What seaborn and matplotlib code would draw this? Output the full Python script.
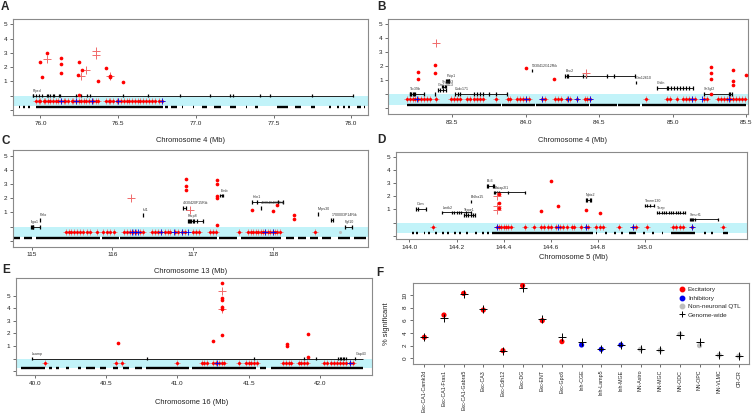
import matplotlib
matplotlib.use("Agg")
import matplotlib.pyplot as plt
from matplotlib.lines import Line2D
import seaborn as sns

# ---------------- panel A : chromosome 4, 76-78 Mb ----------------
A_hit_x = [76.00, 76.01, 76.04, 76.13, 76.13, 76.13, 76.24, 76.25, 76.27, 76.42, 76.37, 76.45, 76.45, 76.53, 76.25]
A_hit_y = [2.35, 1.28, 3.02, 2.63, 2.21, 1.58, 1.44, 2.35, 1.79, 1.91, 1.00, 1.33, 1.37, 0.98, 0.07]
A_gw_x = [76.04, 76.26, 76.29, 76.36, 76.36, 76.45]
A_gw_y = [2.58, 1.40, 1.77, 3.12, 2.88, 1.40]
A_row_red = [75.97, 75.99, 76.00, 76.02, 76.03, 76.05, 76.06, 76.08, 76.10, 76.11, 76.13, 76.15, 76.16,
             76.18, 76.20, 76.21, 76.23, 76.25, 76.26, 76.28, 76.29, 76.31, 76.33, 76.34, 76.36, 76.37,
             76.42, 76.44, 76.45, 76.47, 76.49, 76.50, 76.52, 76.54, 76.56, 76.57, 76.59, 76.61, 76.63,
             76.64, 76.66, 76.68, 76.70, 76.72, 76.74, 76.76, 76.78]
A_row_blue = [76.135, 76.23, 76.33, 76.50, 76.78]
A_row_gray = []
A_blk_start = [75.86, 75.89, 75.92, 75.95, 75.97, 76.80, 76.84, 76.91, 76.98, 77.04, 77.12, 77.22, 77.32,
               77.38, 77.52, 77.64, 77.74, 77.86, 77.91, 77.95, 77.98, 78.04, 78.08]
A_blk_end = [75.87, 75.90, 75.93, 75.955, 76.79, 76.82, 76.88, 76.92, 76.99, 77.07, 77.16, 77.26, 77.33,
             77.40, 77.59, 77.68, 77.77, 77.87, 77.92, 77.96, 77.99, 78.06, 78.09]
A_gene_name = ["Ptprd"]
A_gene_start = [75.95]
A_gene_end = [78.01]
A_gene_y = [0.0]
A_gene_exons = [[75.95, 75.955, 75.97, 75.99, 76.01, 76.04, 76.05, 76.06, 76.08, 76.09, 76.12, 76.125,
                 76.23, 76.26, 76.30, 76.32, 76.53, 76.69, 76.90, 77.09, 77.22, 77.24, 77.41, 77.48,
                 77.75, 78.01]]

# ---------------- panel B : chromosome 4, 83-85.5 Mb ----------------
B_hit_x = [83.27, 83.27, 83.38, 83.38, 84.00, 84.19, 85.26, 85.26, 85.26, 85.41, 85.41, 85.41, 85.50, 85.26]
B_hit_y = [1.61, 1.07, 2.09, 1.54, 1.87, 1.07, 1.92, 1.54, 1.07, 1.73, 0.95, 0.64, 1.40, 0.02]
B_gw_x = [83.39, 84.41]
B_gw_y = [3.63, 1.54]
B_row_red = [83.19, 83.21, 83.23, 83.25, 83.27, 83.29, 83.31, 83.33, 83.35, 83.39, 83.49, 83.51, 83.53,
             83.55, 83.60, 83.62, 83.65, 83.67, 83.69, 83.71, 83.80, 83.88, 83.89, 83.94, 83.96, 83.98,
             84.00, 84.02, 84.11, 84.13, 84.20, 84.22, 84.24, 84.28, 84.30, 84.35, 84.40, 84.42, 84.44,
             84.82, 84.96, 84.98, 85.03, 85.07, 85.09, 85.11, 85.13, 85.15, 85.21, 85.23, 85.31, 85.33,
             85.35, 85.37, 85.39, 85.41, 85.43, 85.45, 85.47, 85.49]
B_row_blue = [83.26, 84.00, 84.11, 84.29, 84.35, 84.44, 85.13, 85.20, 85.38]
B_row_gray = []
B_blk_start = [83.19, 83.84, 84.07, 84.44, 84.63, 84.79]
B_blk_end = [83.83, 84.06, 84.43, 84.62, 84.78, 85.50]
B_gene_name = ["Ttc39b", "", "Psip1", "Snapc3", "Gm12413", "Ccdc171", "5930412G12Rik", "Bnc2", "Gm12610",
               "Cntln", "Sh3gl2"]
B_gene_start = [83.21, 83.38, 83.46, 83.43, 83.40, 83.52, 84.04, 84.27, 84.75, 84.89, 85.21]
B_gene_end = [83.31, 83.38, 83.48, 83.46, 83.46, 83.87, 84.04, 84.74, 84.75, 85.14, 85.40]
B_gene_y = [0.0, 0.0, 0.95, 0.55, 0.30, 0.0, 1.70, 1.30, 0.85, 0.47, 0.0]
B_gene_exons = [[83.21, 83.215, 83.22, 83.23, 83.24, 83.25, 83.31], [83.38],
                [83.46, 83.465, 83.47, 83.475, 83.48], [83.43, 83.44, 83.45, 83.46],
                [83.40, 83.42, 83.44, 83.46],
                [83.52, 83.54, 83.55, 83.65, 83.67, 83.69, 83.71, 83.75, 83.80, 83.87], [84.04],
                [84.27, 84.28, 84.29, 84.39, 84.41, 84.55, 84.60, 84.74], [84.75],
                [84.89, 84.96, 84.97, 84.99, 85.01, 85.03, 85.05, 85.07, 85.09, 85.11, 85.14],
                [85.21, 85.38, 85.39, 85.40]]

# ---------------- panel C : chromosome 13, 115-119 Mb ----------------
C_hit_x = [116.92, 116.92, 116.92, 117.30, 117.30, 117.30, 117.30, 117.30, 117.74, 117.99, 118.05,
           118.26, 118.26]
C_hit_y = [3.36, 2.89, 2.58, 3.29, 2.98, 2.18, 1.99, 0.12, 1.17, 1.10, 1.55, 0.82, 0.52]
C_gw_x = [116.23, 116.97]
C_gw_y = [2.00, 1.17]
C_row_red = [115.43, 115.46, 115.49, 115.52, 115.56, 115.60, 115.64, 115.68, 115.72, 115.81, 115.89,
             115.93, 115.97, 116.02, 116.14, 116.18, 116.22, 116.26, 116.30, 116.34, 116.38, 116.49,
             116.53, 116.57, 116.61, 116.65, 116.69, 116.72, 116.78, 116.82, 116.86, 116.90, 117.00,
             117.04, 117.08, 117.21, 117.25, 117.29, 117.57, 117.69, 117.72, 117.75, 117.78, 117.81,
             117.84, 117.87, 117.90, 117.93, 117.96, 117.99, 118.02, 118.05, 118.08, 118.52]
C_row_blue = [116.24, 116.28, 116.32, 116.60, 116.76, 116.86, 116.94, 117.90, 118.00]
C_row_gray = [118.83]
C_blk_start = [114.78, 114.90, 115.05, 115.87, 116.10, 117.32, 117.60, 118.15, 118.30, 118.45, 118.60,
               118.80, 119.00]
C_blk_end = [114.85, 115.00, 115.85, 116.08, 117.30, 117.55, 118.10, 118.25, 118.40, 118.55, 118.72,
             118.95, 119.15]
C_gene_name = ["Itga1", "Pelo", "Isl1", "4930420F15Rik", "Parp8", "Emb", "Hcn1", "4930404I05Rik",
               "Mrps30", "1700003P14Rik", "Fgf10"]
C_gene_start = [114.99, 115.10, 116.38, 116.88, 116.94, 117.34, 117.74, 117.85, 118.55, 118.72, 118.89]
C_gene_end = [115.10, 115.10, 116.38, 116.91, 117.13, 117.38, 118.12, 117.85, 118.55, 118.74, 118.98]
C_gene_y = [0.0, 0.45, 0.82, 1.30, 0.40, 2.20, 1.76, 1.30, 0.87, 0.45, 0.0]
C_gene_exons = [[114.99, 115.00, 115.01, 115.02, 115.10], [115.10], [116.38],
                [116.88, 116.91], [116.94, 116.95, 116.96, 116.98, 117.00, 117.02, 117.05, 117.13],
                [117.34, 117.36, 117.38], [117.74, 117.80, 118.06, 118.12], [117.85], [118.55],
                [118.72, 118.74], [118.89, 118.98]]

# ---------------- panel D : chromosome 5, 144-145 Mb ----------------
D_hit_x = [144.60, 144.63, 144.56, 144.75, 144.81, 144.38, 144.38, 144.38]
D_hit_y = [3.16, 1.26, 0.91, 0.96, 0.76, 2.17, 1.46, 1.15]
D_gw_x = [144.37, 144.37, 144.37]
D_gw_y = [2.05, 1.26, 0.93]
D_row_red = [144.10, 144.37, 144.38, 144.39, 144.40, 144.41, 144.42, 144.43, 144.49, 144.53, 144.56,
             144.57, 144.59, 144.60, 144.62, 144.64, 144.65, 144.67, 144.69, 144.70, 144.73, 144.75,
             144.76, 144.79, 144.81, 144.82, 144.89, 144.95, 144.96, 145.01, 145.12, 145.13, 145.15,
             145.16, 145.20, 145.33]
D_row_blue = [144.37, 144.63, 144.75, 144.95, 145.20]
D_row_gray = []
D_blk_start = [144.01, 144.03, 144.06, 144.08, 144.11, 144.14, 144.16, 144.19, 144.21, 144.24, 144.28,
               144.31, 144.33, 144.35, 144.79, 144.83, 144.87, 144.90, 144.93, 144.99, 145.03, 145.07,
               145.11, 145.25, 145.28, 145.33]
D_blk_end = [144.018, 144.038, 144.068, 144.088, 144.118, 144.148, 144.168, 144.198, 144.218, 144.248,
             144.288, 144.318, 144.338, 144.78, 144.798, 144.838, 144.878, 144.908, 144.96, 144.998,
             145.038, 145.078, 145.21, 145.258, 145.288, 145.35]
D_gene_name = ["Ocm", "Lmtk2", "Bhlha15", "Tecpr1", "Bri3", "Baiap2l1", "Nptx2", "Tmem130", "Trrap",
               "Smurf1"]
D_gene_start = [144.03, 144.14, 144.26, 144.23, 144.33, 144.36, 144.75, 145.00, 145.05, 145.19]
D_gene_end = [144.07, 144.26, 144.26, 144.28, 144.36, 144.49, 144.77, 145.04, 145.17, 145.31]
D_gene_y = [1.03, 0.78, 1.59, 0.58, 2.78, 2.30, 1.72, 1.29, 0.76, 0.25]
D_gene_exons = [[144.03, 144.035, 144.07], [144.14, 144.18, 144.19, 144.20, 144.21, 144.22, 144.24, 144.26],
                [144.26], [144.23, 144.24, 144.25, 144.26, 144.27, 144.28],
                [144.33, 144.335, 144.355, 144.36], [144.36, 144.365, 144.37, 144.38, 144.42, 144.49],
                [144.75, 144.755, 144.765, 144.77], [145.00, 145.01, 145.02, 145.04],
                [145.05, 145.06, 145.07, 145.08, 145.09, 145.10, 145.11, 145.12, 145.13, 145.14, 145.15,
                 145.16, 145.17],
                [145.19, 145.195, 145.20, 145.205, 145.21, 145.31]]

# ---------------- panel E : chromosome 16, 40-42.3 Mb ----------------
E_hit_x = [40.585, 41.253, 41.31, 41.31, 41.31, 41.31, 41.31, 41.31, 41.77, 41.77, 41.92, 41.92]
E_hit_y = [1.21, 1.42, 6.03, 4.79, 4.66, 4.07, 3.94, 1.87, 1.15, 1.02, 1.92, 0.09]
E_gw_x = [41.31, 41.31]
E_gw_y = [5.37, 3.91]
E_row_red = [40.07, 40.57, 40.61, 41.00, 41.17, 41.19, 41.21, 41.25, 41.27, 41.29, 41.31, 41.33, 41.43,
             41.48, 41.50, 41.52, 41.54, 41.56, 41.74, 41.76, 41.78, 41.80, 41.85, 41.87, 41.89, 41.91,
             42.03, 42.05, 42.08, 42.10, 42.12, 42.14, 42.16, 42.18, 42.21, 42.23]
E_row_blue = [41.28, 42.21]
E_row_gray = []
E_blk_start = [39.90, 40.10, 40.15, 40.22, 40.30, 40.36, 40.46, 40.55, 40.62, 40.70, 40.78, 41.10, 41.58,
               41.66]
E_blk_end = [40.07, 40.12, 40.17, 40.24, 40.32, 40.42, 40.50, 40.58, 40.66, 40.75, 41.08, 41.55, 41.62,
             42.30]
E_gene_name = ["Lsamp", "Gap43"]
E_gene_start = [39.98, 42.25]
E_gene_end = [42.25, 42.30]
E_gene_y = [0.0, 0.0]
E_gene_exons = [[39.98, 40.79, 41.54, 41.89, 41.97, 42.13, 42.14, 42.15, 42.16, 42.17, 42.18], [42.25]]

# ---------------- panel F : % significant per cell type ----------------
F_cell = ["Exc-CA1-Camk2d", "Exc-CA1-Fras1", "Exc-CA1-Gabra5", "Exc-CA3", "Exc-Cdh12", "Exc-DG",
          "Exc-ENT", "Exc-Gpc6", "Inh-CGE", "Inh-Lamp5", "Inh-MGE", "NN-Astro", "NN-MGC", "NN-ODC",
          "NN-OPC", "NN-VLMC", "CR-CR"]
F_class = ["Excitatory"] * 8 + ["Inhibitory"] * 3 + ["Non-neuronal QTL"] * 6
F_qtl = [3.32, 6.84, 10.26, 7.63, 1.21, 11.5, 5.95, 2.63, 2.10, 1.42, 2.10, 1.42, 1.26, 3.79, 2.00, 0.50, 0.35]
F_genome = [3.30, 6.30, 10.10, 7.80, 1.20, 11.05, 6.20, 3.32, 2.50, 1.50, 2.10, 1.42, 1.26, 3.70, 2.50, 0.53, 0.37]

CYAN = "#c2f3f9"
PINK = "#f06b6b"
RED = "#ff0000"
BLUE = "#0000ee"
GRAY = "#bdbdbd"
W, H = 754, 413

sns.set_style("ticks")
plt.rcParams["font.family"] = ["Liberation Sans", "DejaVu Sans"]

fig = plt.figure(figsize=(W / 100, H / 100), dpi=100)


def box(l, t, r, b):
    return [l / W, 1 - b / H, (r - l) / W, (b - t) / H]


def style(ax):
    for sp in ax.spines.values():
        sp.set_color("#8a8a8a")
        sp.set_linewidth(0.8)
    ax.tick_params(axis="both", direction="out", length=2.5, width=0.6, color="#555555",
                   labelsize=4.6, labelcolor="#222222", pad=1.5)


def draw_region(ax, hit_x, hit_y, gw_x, gw_y, row_red, row_blue, row_gray, blk_s, blk_e,
                g_name, g_s, g_e, g_y, g_ex):
    ax.axhspan(-0.75, 0, color=CYAN, lw=0, zorder=0)
    ax.hlines([-0.77] * len(blk_s), blk_s, blk_e, color="black", lw=1.7, zorder=1)
    for n, s, e, y, ex in zip(g_name, g_s, g_e, g_y, g_ex):
        ax.hlines(y, s, e, color="#222222", lw=0.7, zorder=2)
        ax.vlines(ex, y - 0.13, y + 0.13, color="black", lw=0.9, zorder=2)
        if n:
            ax.text(s, y + 0.2, n, fontsize=2.6, ha="left", va="bottom", color="#333333", zorder=2)
    sns.scatterplot(x=row_red, y=[-0.35] * len(row_red), marker="+", color=PINK, s=18,
                    linewidth=0.6, ax=ax, zorder=3)
    sns.scatterplot(x=row_red, y=[-0.35] * len(row_red), marker="o", color=RED, s=5,
                    linewidth=0, ax=ax, zorder=3)
    if row_blue:
        sns.scatterplot(x=row_blue, y=[-0.35] * len(row_blue), marker="+", color=BLUE, s=16,
                        linewidth=0.6, ax=ax, zorder=4)
    if row_gray:
        sns.scatterplot(x=row_gray, y=[-0.35] * len(row_gray), marker="o", color=GRAY, s=5,
                        linewidth=0, ax=ax, zorder=4)
    sns.scatterplot(x=gw_x, y=gw_y, marker="+", color=PINK, s=30, linewidth=0.7, ax=ax, zorder=5)
    sns.scatterplot(x=hit_x, y=hit_y, marker="o", color=RED, s=7, linewidth=0, ax=ax, zorder=6)


panels = [
    ("A", (12.5, 19.3, 368.3, 115), (75.82, 78.11), (-1.36, 5.35), [76.0, 76.5, 77.0, 77.5, 78.0],
     "Chromosome 4 (Mb)", (190, 141), (5, 7),
     (A_hit_x, A_hit_y, A_gw_x, A_gw_y, A_row_red, A_row_blue, A_row_gray, A_blk_start, A_blk_end,
      A_gene_name, A_gene_start, A_gene_end, A_gene_y, A_gene_exons)),
    ("B", (388.3, 19.3, 747.7, 114), (83.065, 85.51), (-1.4, 5.33), [83.5, 84.0, 84.5, 85.0, 85.5],
     "Chromosome 4 (Mb)", (572, 141), (382, 7),
     (B_hit_x, B_hit_y, B_gw_x, B_gw_y, B_row_red, B_row_blue, B_row_gray, B_blk_start, B_blk_end,
      B_gene_name, B_gene_start, B_gene_end, B_gene_y, B_gene_exons)),
    ("C", (12.7, 150, 367.7, 246.7), (114.764, 119.17), (-1.41, 5.4), [115, 116, 117, 118],
     "Chromosome 13 (Mb)", (191, 271.5), (6, 141),
     (C_hit_x, C_hit_y, C_gw_x, C_gw_y, C_row_red, C_row_blue, C_row_gray, C_blk_start, C_blk_end,
      C_gene_name, C_gene_start, C_gene_end, C_gene_y, C_gene_exons)),
    ("D", (396, 151.7, 747.3, 239.3), (143.943, 145.434), (-1.26, 5.38),
     [144.0, 144.2, 144.4, 144.6, 144.8, 145.0],
     "Chromosome 5 (Mb)", (573, 257.7), (381, 140),
     (D_hit_x, D_hit_y, D_gw_x, D_gw_y, D_row_red, D_row_blue, D_row_gray, D_blk_start, D_blk_end,
      D_gene_name, D_gene_start, D_gene_end, D_gene_y, D_gene_exons)),
    ("E", (16, 278.3, 372.3, 375), (39.867, 42.368), (-1.31, 6.38), [40.0, 40.5, 41.0, 41.5, 42.0],
     "Chromosome 16 (Mb)", (192, 402.7), (6, 270),
     (E_hit_x, E_hit_y, E_gw_x, E_gw_y, E_row_red, E_row_blue, E_row_gray, E_blk_start, E_blk_end,
      E_gene_name, E_gene_start, E_gene_end, E_gene_y, E_gene_exons)),
]

for letter, rect, xlim, ylim, xt, xlab, xlab_pos, let_pos, data in panels:
    ax = fig.add_axes(box(*rect))
    draw_region(ax, *data)
    ax.set_xlim(*xlim)
    ax.set_ylim(*ylim)
    ax.set_xticks(xt)
    ax.set_xticklabels([str(int(v)) if letter == "C" else f"{v:.1f}" for v in xt])
    ax.set_yticks([-1, 0, 1, 2, 3, 4, 5])
    ax.set_yticklabels(["", "", "1", "2", "3", "4", "5"])
    ax.set_xlabel("")
    ax.set_ylabel("")
    style(ax)
    fig.text(xlab_pos[0] / W, 1 - xlab_pos[1] / H, xlab, fontsize=5.4, ha="center", va="center",
             color="#222222")
    fig.text(let_pos[0] / W, 1 - let_pos[1] / H, letter, fontsize=8.5, fontweight="bold",
             ha="center", va="center")

# ---- panel F ----
axf = fig.add_axes(box(413.3, 282.7, 749.3, 364.3))
pos = list(range(len(F_cell)))
sns.scatterplot(x=pos, y=F_qtl, hue=F_class, palette={"Excitatory": RED, "Inhibitory": BLUE,
                "Non-neuronal QTL": GRAY}, s=14, linewidth=0, legend=False, ax=axf, zorder=3)
sns.scatterplot(x=pos, y=F_genome, marker="+", color="black", s=30, linewidth=0.7, ax=axf, zorder=4)
axf.set_xlim(-0.56, 16.53)
axf.set_ylim(-0.95, 11.95)
axf.set_xticks(pos)
axf.set_xticklabels(F_cell, rotation=90)
axf.set_yticks([0, 2, 4, 6, 8, 10])
axf.set_yticklabels(["0", "2", "4", "6", "8", "10"], rotation=90, va="center")
style(axf)
axf.tick_params(axis="x", labelsize=3.8)
axf.set_xlabel("")
axf.set_ylabel("")
fig.text(387 / W, 1 - 323.5 / H, "% significant", rotation=90, fontsize=5.4, ha="center", va="center",
         color="#222222")
fig.text(380 / W, 1 - 273 / H, "F", fontsize=8.5, fontweight="bold", ha="center", va="center")

handles = [
    Line2D([], [], ls="", marker="o", color=RED, markersize=3.2),
    Line2D([], [], ls="", marker="o", color=BLUE, markersize=3.2),
    Line2D([], [], ls="", marker="o", color=GRAY, markersize=3.2),
    Line2D([], [], ls="", marker="+", color="black", markersize=4.5, markeredgewidth=0.7),
]
axf.legend(handles, ["Excitatory", "Inhibitory", "Non-neuronal QTL", "Genome-wide"],
           loc="upper left", bbox_to_anchor=((679 - 413.3) / 336, 1 - (287 - 282.7) / 81.6),
           frameon=False, fontsize=4.6, handletextpad=0.4, labelspacing=0.45, borderaxespad=0,
           handlelength=1.0, borderpad=0)

fig.savefig("out.png", dpi=100)
